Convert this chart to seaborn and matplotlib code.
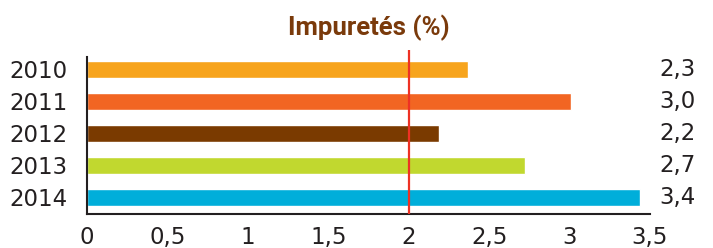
import numpy as np
import pandas as pd
import matplotlib
matplotlib.use('Agg')
import matplotlib.pyplot as plt
import seaborn as sns

years = ['2010', '2011', '2012', '2013', '2014']
impurities = [2.37, 3.01, 2.19, 2.72, 3.44]
value_labels = ['2,3', '3,0', '2,2', '2,7', '3,4']
bar_colors = ['#F7A41D', '#F26522', '#7A3A00', '#C1D82F', '#00AEDA']
x_ticks = [0, 0.5, 1, 1.5, 2, 2.5, 3, 3.5]
x_tick_labels = ['0', '0,5', '1', '1,5', '2', '2,5', '3', '3,5']
threshold = 2.0
title = 'Impuretés (%)'

df = pd.DataFrame({'year': years, 'impurity': impurities})

sns.set_style('white')
plt.rcParams['font.family'] = ['DejaVu Sans']

fig = plt.figure(figsize=(7.13, 2.48), dpi=100)
ax = fig.add_axes([0.122, 0.136, 0.7896, 0.662])

sns.barplot(data=df, x='impurity', y='year', hue='year', palette=bar_colors,
            orient='h', width=0.52, legend=False, saturation=1, ax=ax)

ax.axvline(threshold, color='#EE3124', linewidth=1.6, zorder=5)

ax.set_xlim(0, 3.5)
ax.set_ylim(4.525, -0.606)
ax.set_xticks(x_ticks)
ax.set_xticklabels(x_tick_labels)
ax.set_xlabel('')
ax.set_ylabel('')

for side in ['top', 'right']:
    ax.spines[side].set_visible(False)
for side in ['left', 'bottom']:
    ax.spines[side].set_color('#231F20')
    ax.spines[side].set_linewidth(1.5)
ax.spines['left'].set_bounds(4.525, -0.39)

ax.tick_params(axis='x', length=6.5, width=1.5, color='#231F20', pad=2,
               labelsize=16.5, labelcolor='#231F20')
ax.tick_params(axis='y', length=0, pad=14, labelsize=16.5, labelcolor='#231F20')

# values on the right side
for i, lab in enumerate(value_labels):
    ax.text(1.016, i, lab, transform=ax.get_yaxis_transform(), ha='left', va='center',
            fontsize=16.5, color='#231F20')

ax.text(0.5, 1 + 15 / 164.3, title, transform=ax.transAxes, ha='center', va='baseline',
        fontsize=18.5, fontweight='bold', color='#7A3A0B', family=['Roboto', 'DejaVu Sans'])

fig.savefig('out.png', dpi=100)
